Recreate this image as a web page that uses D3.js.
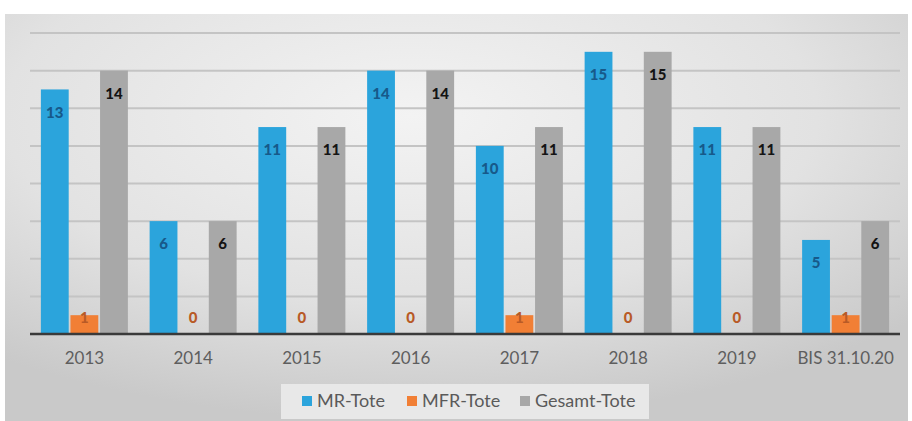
<!DOCTYPE html>
<html>
<head>
<meta charset="utf-8">
<script src="https://cdn.jsdelivr.net/npm/d3@7"></script>
<style>
body { margin: 0; background: #fff; }
svg { display: block; font-family: Lato, "Open Sans", sans-serif; }
</style>
</head>
<body>
<div id="chart"></div>
<script>
// categories and series
var years = ["2013", "2014", "2015", "2016", "2017", "2018", "2019", "BIS 31.10.20"];
var mrTote = [13, 6, 11, 14, 10, 15, 11, 5];
var mfrTote = [1, 0, 0, 0, 1, 0, 0, 1];
var gesamtTote = [14, 6, 11, 14, 11, 15, 11, 6];
var seriesNames = ["MR-Tote", "MFR-Tote", "Gesamt-Tote"];
var yTicks = [0, 2, 4, 6, 8, 10, 12, 14, 16];

var width = 912, height = 421;
var plot = { left: 30, right: 900, top: 33, bottom: 334 };

var colors = ["#2ba4dc", "#f17f35", "#a8a8a8"];
var labelColors = ["#17598a", "#b85a26", "#141414"];

var svg = d3.select("#chart").append("svg")
    .attr("width", width)
    .attr("height", height);

// background gradient
var defs = svg.append("defs");
var grad = defs.append("radialGradient")
    .attr("id", "bg")
    .attr("cx", "45%").attr("cy", "25%").attr("r", "75%");
grad.append("stop").attr("offset", "0%").attr("stop-color", "#f3f3f3");
grad.append("stop").attr("offset", "60%").attr("stop-color", "#e2e2e2");
grad.append("stop").attr("offset", "100%").attr("stop-color", "#c9c9c9");

svg.append("rect")
    .attr("x", 5).attr("y", 14)
    .attr("width", 903).attr("height", height - 14)
    .attr("fill", "url(#bg)");

var x = d3.scaleBand()
    .domain(years)
    .range([plot.left, plot.right])
    .paddingInner(0.2)
    .paddingOuter(0.1);

var x1 = d3.scaleBand()
    .domain(seriesNames)
    .range([0, x.bandwidth()])
    .paddingInner(0.06);

var y = d3.scaleLinear()
    .domain([0, 16])
    .range([plot.bottom, plot.top]);

// gridlines
svg.append("g")
    .selectAll("line")
    .data(yTicks.slice(1))
    .enter().append("line")
    .attr("x1", plot.left)
    .attr("x2", plot.right)
    .attr("y1", function (d) { return y(d); })
    .attr("y2", function (d) { return y(d); })
    .attr("stroke", "#c4c4c4")
    .attr("stroke-width", 2);

var data = years.map(function (yr, i) {
    return { year: yr, values: [mrTote[i], mfrTote[i], gesamtTote[i]] };
});

var groups = svg.append("g")
    .selectAll("g")
    .data(data)
    .enter().append("g")
    .attr("transform", function (d) { return "translate(" + x(d.year) + ",0)"; });

groups.selectAll("rect")
    .data(function (d) { return d.values.map(function (v, k) { return { k: k, v: v }; }); })
    .enter().append("rect")
    .attr("x", function (d) { return x1(seriesNames[d.k]); })
    .attr("y", function (d) { return y(d.v); })
    .attr("width", x1.bandwidth())
    .attr("height", function (d) { return y(0) - y(d.v); })
    .attr("fill", function (d) { return colors[d.k]; });

// value labels
groups.selectAll("text")
    .data(function (d) { return d.values.map(function (v, k) { return { k: k, v: v }; }); })
    .enter().append("text")
    .attr("x", function (d) { return x1(seriesNames[d.k]) + x1.bandwidth() / 2; })
    .attr("y", function (d) {
        if (d.k === 1) return y(0) - 16;
        return y(d.v) + 23;
    })
    .attr("dy", "0.35em")
    .attr("text-anchor", "middle")
    .attr("font-size", 15)
    .attr("font-weight", "900")
    .attr("fill", function (d) { return labelColors[d.k]; })
    .text(function (d) { return d.v; });

// baseline
svg.append("line")
    .attr("x1", plot.left).attr("x2", plot.right)
    .attr("y1", y(0)).attr("y2", y(0))
    .attr("stroke", "#3a3a3a")
    .attr("stroke-width", 2.5);

// x axis labels
var xAxis = d3.axisBottom(x).tickSize(0).tickPadding(18);
var gx = svg.append("g")
    .attr("transform", "translate(0," + y(0) + ")")
    .call(xAxis);
gx.select(".domain").remove();
gx.selectAll("text")
    .attr("font-size", 17)
    .attr("font-family", "Lato, 'Open Sans', sans-serif")
    .attr("fill", "#5e5e5e");

// legend
svg.append("rect")
    .attr("x", 281).attr("y", 384)
    .attr("width", 368).attr("height", 35)
    .attr("fill", "#e8e8e8");

var legendX = [302, 407, 520];
var legend = svg.append("g")
    .selectAll("g")
    .data(seriesNames)
    .enter().append("g")
    .attr("transform", function (d, i) { return "translate(" + legendX[i] + ",401)"; });

legend.append("rect")
    .attr("x", 0).attr("y", -5)
    .attr("width", 10).attr("height", 10)
    .attr("fill", function (d, i) { return colors[i]; });

legend.append("text")
    .attr("x", 15)
    .attr("dy", "0.35em")
    .attr("font-size", 18)
    .attr("fill", "#5a5a5a")
    .text(function (d) { return d; });
</script>
</body>
</html>
